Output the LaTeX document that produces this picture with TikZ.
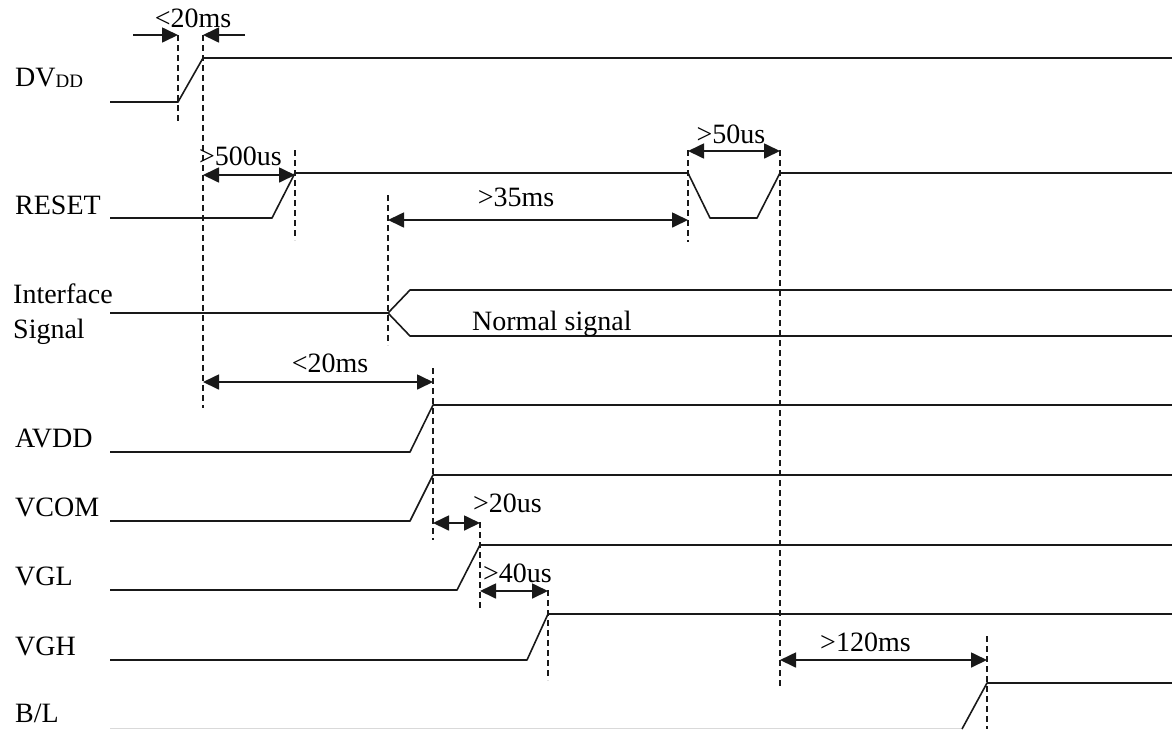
\documentclass[tikz,border=0pt]{standalone}
\usepackage{fontspec}
\setmainfont{Liberation Serif}
\usetikzlibrary{arrows.meta}
\begin{document}
\begin{tikzpicture}[x=1pt,y=-1pt,
  sig/.style={line width=1.6pt, draw=black!90, line join=round},
  guide/.style={line width=1.3pt, dash pattern=on 6pt off 4pt, draw=black!90},
  tip/.tip={Triangle[length=16pt,width=15pt]},
  dim/.style={line width=1.7pt, draw=black!90, tip-tip},
  lbl/.style={anchor=base west, inner sep=0pt, font=\fontsize{28}{33}\selectfont},
  val/.style={anchor=base, inner sep=0pt, font=\fontsize{28}{33}\selectfont}]
\useasboundingbox (0,0) rectangle (1172,729);

% signal names
\node[lbl] (nDVDD) at (15,86) {DV{\fontsize{19}{21}\selectfont\raisebox{-1pt}{DD}}};
\node[lbl] (nRESET) at (15,214) {RESET};
\node[lbl] (nIF1) at (13,303) {Interface};
\node[lbl] (nIF2) at (13,338) {Signal};
\node[lbl] (nAVDD) at (15,447) {AVDD};
\node[lbl] (nVCOM) at (15,516) {VCOM};
\node[lbl] (nVGL) at (15,585) {VGL};
\node[lbl] (nVGH) at (15,655) {VGH};
\node[lbl] (nBL) at (15,722) {B/L};

% waveforms
\draw[sig] (110,102) -- (178,102) -- (203,58) -- (1172,58);
\draw[sig] (110,218) -- (272,218) -- (295,173) -- (688,173) -- (710,218) -- (757,218) -- (780,173) -- (1172,173);
\draw[sig] (110,313) -- (388,313) -- (410,290) -- (1172,290);
\draw[sig] (388,313) -- (410,336) -- (1172,336);
\draw[sig] (110,452) -- (410,452) -- (433,405) -- (1172,405);
\draw[sig] (110,521) -- (410,521) -- (433,475) -- (1172,475);
\draw[sig] (110,590) -- (457,590) -- (480,545) -- (1172,545);
\draw[sig] (110,660) -- (527,660) -- (548,614) -- (1172,614);
\draw[line width=1pt, draw=black!15] (110,728) -- (962,728);
\draw[sig] (962,729) -- (987,683) -- (1172,683);

% dashed guides
\draw[guide] (178,35) -- (178,122);
\draw[guide] (203,35) -- (203,408);
\draw[guide] (295,150) -- (295,240);
\draw[guide] (688,150) -- (688,242);
\draw[guide] (780,150) -- (780,688);
\draw[guide] (388,195) -- (388,345);
\draw[guide] (433,368) -- (433,540);
\draw[guide] (480,522) -- (480,610);
\draw[guide] (548,590) -- (548,680);
\draw[guide] (987,636) -- (987,729);

% dimension arrows
\coordinate (a1) at (133,35); \coordinate (a2) at (178,35);
\coordinate (a3) at (245,35); \coordinate (a4) at (203,35);
\draw[line width=1.7pt, draw=black!90, -tip] (a1) -- (a2);
\draw[line width=1.7pt, draw=black!90, -tip] (a3) -- (a4);
\node[val] (v1) at (193,27) {<20ms};

\coordinate (b1) at (203,175); \coordinate (b2) at (295,175);
\draw[dim] (b1) -- (b2);
\node[lbl] (v2) at (199,165) {>500us};

\coordinate (c1) at (688,151); \coordinate (c2) at (780,151);
\draw[dim] (c1) -- (c2);
\node[val] (v3) at (731,143) {>50us};

\coordinate (d1) at (388,220); \coordinate (d2) at (688,220);
\draw[dim] (d1) -- (d2);
\node[val] (v4) at (516,206) {>35ms};

\node[lbl] (ns) at (472,330) {Normal signal};

\coordinate (e1) at (203,382); \coordinate (e2) at (433,382);
\draw[dim] (e1) -- (e2);
\node[val] (v5) at (330,372) {<20ms};

\coordinate (f1) at (433,523); \coordinate (f2) at (480,523);
\draw[dim] (f1) -- (f2);
\node[lbl] (v6) at (473,512) {>20us};

\coordinate (g1) at (480,591); \coordinate (g2) at (548,591);
\draw[dim] (g1) -- (g2);
\node[lbl] (v7) at (483,582) {>40us};

\coordinate (h1) at (780,660); \coordinate (h2) at (987,660);
\draw[dim] (h1) -- (h2);
\node[lbl] (v8) at (820,651) {>120ms};
\end{tikzpicture}
\end{document}
